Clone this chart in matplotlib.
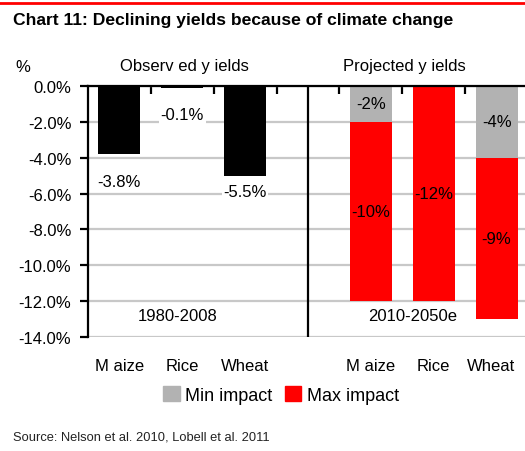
import matplotlib
matplotlib.use("Agg")
import matplotlib.pyplot as plt
from matplotlib.patches import Patch
import numpy as np

plt.rcParams['font.family'] = ['Liberation Sans', 'DejaVu Sans']

# data
crops = ["M aize", "Rice", "Wheat"]
observed = [-3.8, -0.1, -5.0]          # bar ends as drawn
observed_labels = ["-3.8%", "-0.1%", "-5.5%"]
min_impact = [-2, 0, -4]
max_impact = [-10, -12, -9]
min_labels = ["-2%", "", "-4%"]
max_labels = ["-10%", "-12%", "-9%"]
yticks = [0, -2, -4, -6, -8, -10, -12, -14]

obs_x = np.array([0, 1, 2])
proj_x = np.array([4, 5, 6])
bar_w = 0.67
GRAY = "#b2b2b2"
RED = "#ff0000"

fig = plt.figure(figsize=(5.25, 4.52), dpi=100)
ax = fig.add_axes([88 / 525, 1 - 338 / 452, 440 / 525, 251 / 452])

ax.set_ylim(-14, 0)
ax.set_xlim(-0.5, 6.5)
ax.set_yticks(yticks)
ax.set_yticklabels([f"{v:.1f}%" for v in yticks], fontsize=12)
ax.yaxis.grid(True, color="#c8c8c8", linewidth=1.6)
ax.set_axisbelow(True)

# observed bars
ax.bar(obs_x, observed, width=bar_w, color="black")
label_off = [-27, -27, -16]
for x, v, lab, off in zip(obs_x, observed, observed_labels, label_off):
    ax.annotate(lab, (x, v), xytext=(0, off), textcoords="offset pixels",
                ha="center", va="center", fontsize=12,
                bbox=dict(boxstyle="square,pad=0.1", fc="white", ec="none"))

# projected stacked bars
ax.bar(proj_x, min_impact, width=bar_w, color=GRAY)
ax.bar(proj_x, max_impact, bottom=min_impact, width=bar_w, color=RED)
for x, a, b, la, lb in zip(proj_x, min_impact, max_impact, min_labels, max_labels):
    if la:
        ax.text(x, a / 2, la, ha="center", va="center", fontsize=12)
    ax.text(x, a + b / 2, lb, ha="center", va="center", fontsize=12)

# separator between the two groups
ax.axvline(3, color="black", linewidth=1.6)

ax.text(0.93, -12.8, "1980-2008", ha="center", va="center", fontsize=12)
ax.text(4.67, -12.8, "2010-2050e", ha="center", va="center", fontsize=12)

# spines and ticks
for s in ["right", "bottom"]:
    ax.spines[s].set_visible(False)
for s in ["left", "top"]:
    ax.spines[s].set_linewidth(1.6)
ax.tick_params(axis="y", direction="out", length=6, width=1.6, pad=6)
ax.set_xticks([0.5, 1.5, 2.5, 3.5, 4.5, 5.5])
ax.set_xticklabels([])
ax.tick_params(axis="x", bottom=False, top=True, direction="in",
               length=6, width=1.6, labeltop=False, labelbottom=False)

xt = ax.get_xaxis_transform()
name_x = [0, 1, 2, 4, 5, 5.92]
for x, name in zip(name_x, crops + crops):
    ax.text(x, -0.115, name, transform=xt, ha="center", va="center",
            fontsize=12, clip_on=False)
ax.text(1.04, 1.08, "Observ ed y ields", transform=xt, ha="center",
        va="center", fontsize=12, clip_on=False)
ax.text(4.54, 1.08, "Projected y ields", transform=xt, ha="center",
        va="center", fontsize=12, clip_on=False)

fig.text(15 / 525, 1 - 68 / 452, "%", fontsize=12, ha="left", va="center")

# title and red rule
fig.add_artist(plt.Line2D([0, 1], [1 - 4 / 452] * 2, color=RED, linewidth=2))
fig.text(13 / 525, 1 - 20 / 452, "Chart 11: Declining yields because of climate change",
         fontsize=12.6, fontweight="bold", ha="left", va="center")

handles = [Patch(color=GRAY), Patch(color=RED)]
fig.legend(handles, ["Min impact", "Max impact"], loc="center",
           bbox_to_anchor=(281 / 525, 1 - 396 / 452), ncol=2, frameon=False,
           fontsize=13, handlelength=0.9, handleheight=0.9,
           handletextpad=0.3, columnspacing=0.7)

fig.text(13 / 525, 1 - 438 / 452, "Source: Nelson et al. 2010, Lobell et al. 2011",
         fontsize=9.3, ha="left", va="center", color="#222222")

fig.savefig("out.png", dpi=100)
